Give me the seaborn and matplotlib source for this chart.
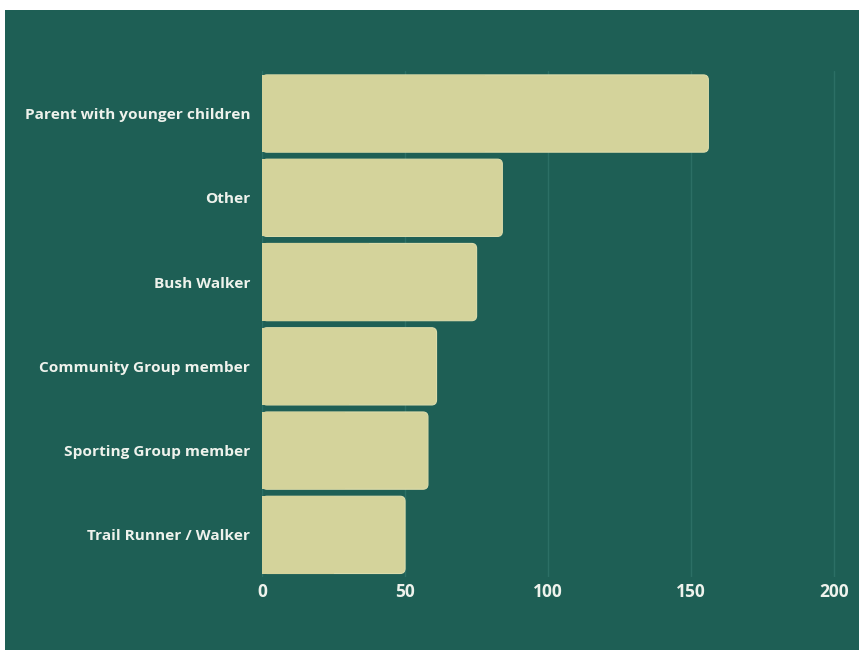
import matplotlib
matplotlib.use("Agg")
import matplotlib.pyplot as plt
from matplotlib.patches import Rectangle, FancyBboxPatch
import seaborn as sns
import pandas as pd

categories = ["Parent with younger children", "Other", "Bush Walker",
              "Community Group member", "Sporting Group member", "Trail Runner / Walker"]
counts = [156, 84, 75, 61, 58, 50]
xticks = [0, 50, 100, 150, 200]

BG = "#1e5f55"
BAR = "#d4d39b"
GRID = "#2c6f65"
TXT = "#eef2ec"

sns.set_theme(style="dark")
plt.rcParams["font.family"] = ["Open Sans", "DejaVu Sans"]

W, H = 859, 650
fig = plt.figure(figsize=(W / 100, H / 100), dpi=100)
fig.patch.set_facecolor("white")
fig.patches.append(Rectangle((5 / W, 0), 1 - 5 / W, 1 - 10 / H, transform=fig.transFigure,
                             facecolor=BG, edgecolor="none", zorder=-10))

ax = fig.add_axes([262 / W, (H - 577) / H, (840 - 262) / W, (577 - 71.4) / H])
ax.set_facecolor(BG)

df = pd.DataFrame({"cat": categories, "n": counts})
sns.barplot(data=df, y="cat", x="n", orient="h", color=BAR, width=0.917,
            saturation=1, ax=ax, zorder=2)

ax.set_xlim(0, 202)
ax.set_xticks(xticks)
ax.xaxis.grid(True, color=GRID, linewidth=1)
ax.yaxis.grid(False)
ax.set_axisbelow(True)

# rounded right corners
fig.canvas.draw()
bbox = ax.get_window_extent()
xpp = (ax.get_xlim()[1] - ax.get_xlim()[0]) / bbox.width
ypp = abs(ax.get_ylim()[1] - ax.get_ylim()[0]) / bbox.height
r = 5 * xpp
for p in list(ax.patches):
    x0, y0, w, h = p.get_x(), p.get_y(), p.get_width(), p.get_height()
    p.set_visible(False)
    fb = FancyBboxPatch((x0, y0), w, h, boxstyle=f"round,pad=0,rounding_size={r}",
                        mutation_aspect=ypp / xpp, facecolor=BAR, edgecolor="#dcdcab",
                        linewidth=0.8, zorder=2)
    ax.add_patch(fb)
    ax.add_patch(Rectangle((x0, y0), w / 2, h, facecolor=BAR, edgecolor="none", zorder=2.1))

for s in ax.spines.values():
    s.set_visible(False)
ax.set_xlabel("")
ax.set_ylabel("")
ax.tick_params(axis="y", length=0, pad=8.5, labelsize=11.1, labelcolor=TXT)
ax.tick_params(axis="x", length=0, pad=4, labelsize=12.5, labelcolor=TXT)
for t in ax.get_yticklabels() + ax.get_xticklabels():
    t.set_fontweight("bold")

fig.savefig("out.png", dpi=100, facecolor=fig.get_facecolor())
